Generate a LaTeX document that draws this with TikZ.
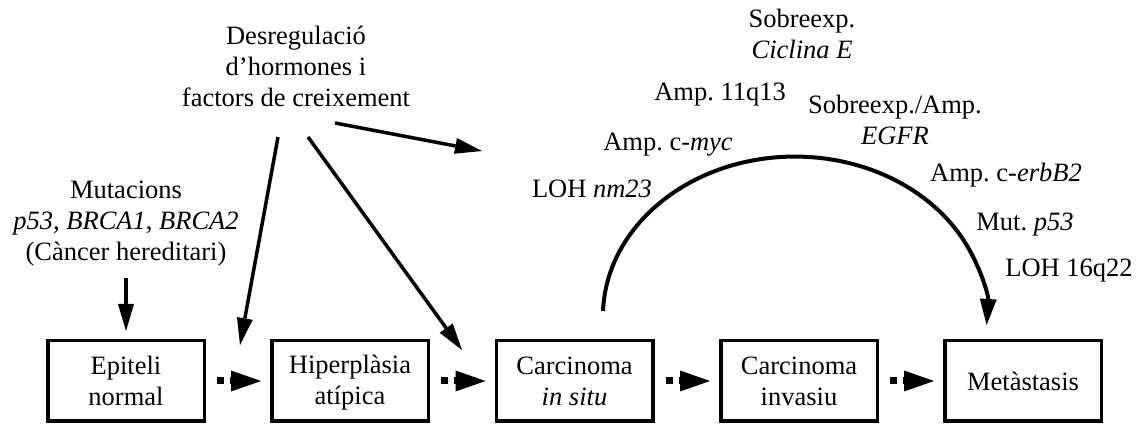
\documentclass[tikz,border=0pt]{standalone}
\usepackage{fontspec}
\setmainfont{Liberation Serif}
\usetikzlibrary{arrows.meta}
\newcommand\mystrut{\rule[-3pt]{0pt}{25pt}}
\frenchspacing
\begin{document}
\begin{tikzpicture}[x=1pt,y=1pt,
  every node/.style={font=\fontsize{26.5}{31}\selectfont, align=center, inner sep=0pt},
  stage/.style={draw, line width=3.5pt, minimum width=156.5pt, minimum height=80.5pt},
  dotarrow/.style={line width=7pt, dash pattern=on 7pt off 6pt,
    -{Triangle[length=30pt,width=21pt,line width=0pt]}, shorten <=11pt, shorten >=9pt},
  solidarrow/.style={line width=3.5pt, -{Triangle[length=27pt,width=16pt,line width=0pt]}},
  curvearrow/.style={line width=4pt, -{Triangle[length=26pt,width=17pt,line width=0pt]}}
]
\useasboundingbox (0,0) rectangle (1139,425);

% stages
\node[stage] (b1) at (126,44)   {\mystrut Epiteli\\\mystrut normal};
\node[stage] (b2) at (350,44)   {\mystrut Hiperplàsia\\\mystrut atípica};
\node[stage] (b3) at (574.5,44) {\mystrut Carcinoma\\\mystrut \textit{in situ}};
\node[stage] (b4) at (799,44)   {\mystrut Carcinoma\\\mystrut invasiu};
\node[stage] (b5) at (1023,44)  {\mystrut Metàstasis};

\draw[dotarrow] (b1.east) -- (b2.west);
\draw[dotarrow] (b2.east) -- (b3.west);
\draw[dotarrow] (b3.east) -- (b4.west);
\draw[dotarrow] (b4.east) -- (b5.west);

% causes
\node (desreg) at (296,358.5) {\mystrut Desregulació\\\mystrut d’hormones i\\\mystrut factors de creixement};
\node (mut) at (126,203.5) {\mystrut Mutacions\\\mystrut \textit{p53}, \textit{BRCA1}, \textit{BRCA2}\\\mystrut (Càncer hereditari)};

\draw[solidarrow, shorten <=11pt, shorten >=8pt] (mut.south) -- (b1.north);

\coordinate (s1) at (278,288);
\coordinate (t1) at (240,80);
\coordinate (s2) at (308,288);
\coordinate (t2) at (462,75);
\coordinate (s3) at (335,302);
\coordinate (t3) at (482,274);
\draw[solidarrow] (s1) -- (t1);
\draw[solidarrow] (s2) -- (t2);
\draw[solidarrow] (s3) -- (t3);

% genetic changes
\node (cicl) at (802,391)   {\mystrut Sobreexp.\\\mystrut \textit{Ciclina E}};
\node (q13)  at (720,332.5) {\mystrut Amp. 11q13};
\node (egfr) at (895,305.5) {\mystrut Sobreexp./Amp.\\\mystrut \textit{EGFR}};
\node (myc)  at (668,282.5) {\mystrut Amp. c-\textit{myc}};
\node (nm)   at (592,236.5) {\mystrut LOH \textit{nm23}};
\node (erb)  at (1006,251.5) {\mystrut Amp. c-\textit{erbB2}};
\node (p53)  at (1025,202.5) {\mystrut Mut. \textit{p53}};
\node (loh)  at (1069,156.5) {\mystrut LOH 16q22};

\coordinate (cs) at (603,114);
\draw[curvearrow] (cs) arc[start angle=178, end angle=-3, x radius=192, y radius=160];
\end{tikzpicture}
\end{document}
